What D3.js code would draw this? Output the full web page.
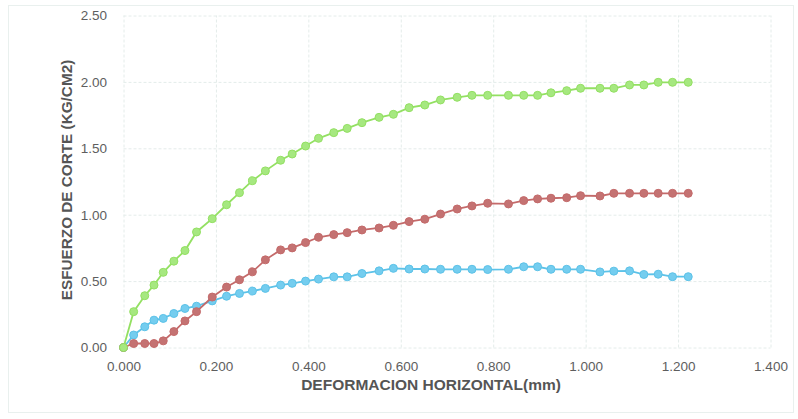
<!DOCTYPE html>
<html>
<head>
<meta charset="utf-8">
<script src="https://cdnjs.cloudflare.com/ajax/libs/d3/7.8.5/d3.min.js"></script>
<style>
    body { margin: 0; background: #ffffff; }
    svg { display: block; }
    text { font-family: Arial, "Liberation Sans", sans-serif; }
</style>
</head>
<body>
<div class="chart"></div>
<script>
// deformacion horizontal (mm), shared by the three curves
var deformacion = [0, 0.022, 0.046, 0.066, 0.086, 0.109, 0.133, 0.158, 0.192, 0.223,
    0.251, 0.279, 0.307, 0.340, 0.365, 0.394, 0.422, 0.455, 0.484, 0.516,
    0.553, 0.584, 0.618, 0.652, 0.686, 0.722, 0.754, 0.788, 0.833, 0.866,
    0.896, 0.925, 0.959, 0.989, 1.031, 1.061, 1.095, 1.126, 1.157, 1.188, 1.222];

var esfuerzoVerde = [0, 0.27, 0.39, 0.47, 0.566, 0.65, 0.73, 0.87, 0.97, 1.075,
    1.166, 1.256, 1.33, 1.41, 1.457, 1.517, 1.575, 1.618, 1.65, 1.693,
    1.733, 1.756, 1.806, 1.826, 1.864, 1.884, 1.899, 1.899, 1.899, 1.899,
    1.899, 1.918, 1.934, 1.952, 1.952, 1.952, 1.977, 1.977, 1.997, 1.997, 1.997];

var esfuerzoRojo = [0, 0.03, 0.03, 0.03, 0.05, 0.12, 0.20, 0.27, 0.38, 0.455,
    0.51, 0.57, 0.66, 0.735, 0.75, 0.79, 0.83, 0.85, 0.865, 0.885,
    0.90, 0.92, 0.948, 0.966, 1.005, 1.043, 1.066, 1.086, 1.081, 1.106,
    1.119, 1.124, 1.128, 1.143, 1.141, 1.161, 1.161, 1.161, 1.161, 1.161, 1.161];

var esfuerzoAzul = [0, 0.094, 0.156, 0.206, 0.219, 0.256, 0.294, 0.311, 0.351, 0.386,
    0.407, 0.425, 0.445, 0.47, 0.483, 0.50, 0.515, 0.532, 0.532, 0.557,
    0.577, 0.596, 0.591, 0.591, 0.589, 0.589, 0.589, 0.587, 0.589, 0.608,
    0.608, 0.589, 0.589, 0.589, 0.569, 0.575, 0.577, 0.55, 0.552, 0.533, 0.533];

var xTicks = [0, 0.2, 0.4, 0.6, 0.8, 1.0, 1.2, 1.4];
var yTicks = [0, 0.5, 1.0, 1.5, 2.0, 2.5];

var width = 798, height = 419;
var plotLeft = 123.5, plotRight = 770.5, plotTop = 15.5, plotBottom = 347.5;

var x = d3.scaleLinear().domain([0, 1.4]).range([plotLeft, plotRight]);
var y = d3.scaleLinear().domain([0, 2.5]).range([plotBottom, plotTop]);

var svg = d3.select('.chart')
    .append('svg')
    .attr('width', width)
    .attr('height', height);

// faint frame round the whole chart
svg.append('rect')
    .attr('x', 8.5)
    .attr('y', 5.5)
    .attr('width', 785)
    .attr('height', 407)
    .style('fill', 'none')
    .style('stroke', '#e9f0ee')
    .style('stroke-width', 1);

// gridlines
svg.append('g')
    .attr('class', 'grid')
    .attr('transform', 'translate(0,' + plotBottom + ')')
    .call(d3.axisBottom(x).tickValues(xTicks).tickSize(-(plotBottom - plotTop)).tickFormat(''));

svg.append('g')
    .attr('class', 'grid')
    .attr('transform', 'translate(' + plotLeft + ',0)')
    .call(d3.axisLeft(y).tickValues(yTicks).tickSize(-(plotRight - plotLeft)).tickFormat(''));

d3.selectAll('.grid .domain').remove();
d3.selectAll('.grid line')
    .style('stroke', '#e4ecea')
    .style('stroke-width', 1)
    .style('stroke-dasharray', '3,2');

// tick labels
svg.append('g')
    .attr('class', 'axis')
    .attr('transform', 'translate(0,' + plotBottom + ')')
    .call(d3.axisBottom(x).tickValues(xTicks).tickSize(0).tickPadding(14).tickFormat(d3.format('.3f')));

svg.append('g')
    .attr('class', 'axis')
    .attr('transform', 'translate(' + plotLeft + ',0)')
    .call(d3.axisLeft(y).tickValues(yTicks).tickSize(0).tickPadding(16.5).tickFormat(d3.format('.2f')));

d3.selectAll('.axis .domain').remove();
d3.selectAll('.axis text')
    .style('font-size', '13.5px')
    .style('fill', '#5e5e5e');

// axis titles
svg.append('text')
    .attr('transform', 'translate(72,180) rotate(-90)')
    .attr('text-anchor', 'middle')
    .style('font-size', '15.3px')
    .style('font-weight', 'bold')
    .style('fill', '#555555')
    .text('ESFUERZO DE CORTE (KG/CM2)');

svg.append('text')
    .attr('x', 431)
    .attr('y', 390)
    .attr('text-anchor', 'middle')
    .style('font-size', '15.5px')
    .style('font-weight', 'bold')
    .style('fill', '#555555')
    .text('DEFORMACION HORIZONTAL(mm)');

// series
var series = [
    {name: 'azul', values: esfuerzoAzul, line: '#5cc2e8', dot: '#74cdef'},
    {name: 'rojo', values: esfuerzoRojo, line: '#c46a6a', dot: '#c47272'},
    {name: 'verde', values: esfuerzoVerde, line: '#93e062', dot: '#a6e880'}
];

var line = d3.line()
    .x(function(d) { return x(d[0]); })
    .y(function(d) { return y(d[1]); });

series.forEach(function(s) {
    var pts = deformacion.map(function(dx, i) { return [dx, s.values[i]]; });

    svg.append('path')
        .datum(pts)
        .attr('class', 'line ' + s.name)
        .attr('d', line)
        .style('fill', 'none')
        .style('stroke', s.line)
        .style('stroke-width', 1.8);

    svg.append('g')
        .attr('class', 'dots ' + s.name)
        .selectAll('circle')
        .data(pts)
        .enter()
        .append('circle')
        .attr('cx', function(d) { return x(d[0]); })
        .attr('cy', function(d) { return y(d[1]); })
        .attr('r', 4)
        .style('fill', s.dot)
        .style('stroke', s.line)
        .style('stroke-width', 1);
});
</script>
</body>
</html>
